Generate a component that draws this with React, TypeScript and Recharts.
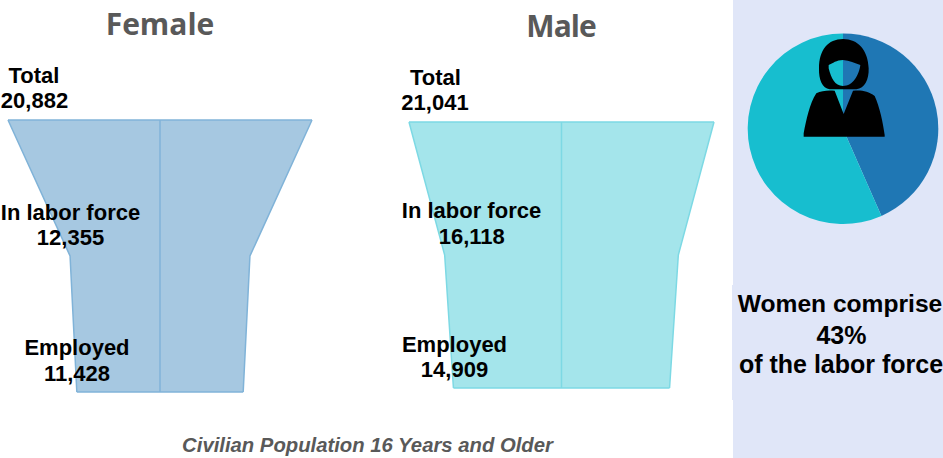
import { Area, AreaChart, Cell, Pie, PieChart, ReferenceLine, XAxis, YAxis } from "recharts";

const stages = ["Total", "In labor force", "Employed"];
const femaleValues = [20882, 12355, 11428];
const maleValues = [21041, 16118, 14909];
const femaleLabels = ["20,882", "12,355", "11,428"];
const maleLabels = ["21,041", "16,118", "14,909"];
const shareNames = ["Women", "Men"];
const shareValues = [12355, 16118];
const shareColors = ["#1F77B4", "#17BECF"];

const labelFont = "'Liberation Sans', Arial, sans-serif";
const titleFont = "'Open Sans', sans-serif";

function toRows(values: number[]) {
  return stages.map((stage, i) => ({ stage, value: values[i], range: [-values[i] / 2, values[i] / 2] }));
}

interface FunnelProps {
  values: number[];
  halfSpan: number;
  left: number;
  top: number;
  width: number;
  height: number;
  fill: string;
  stroke: string;
}

function Funnel({ values, halfSpan, left, top, width, height, fill, stroke }: FunnelProps) {
  const rows = toRows(values);
  const first = rows[0];
  const last = rows[rows.length - 1];
  return (
    <div style={{ position: "absolute", left, top }}>
      <AreaChart
        width={width}
        height={height}
        data={rows}
        layout="vertical"
        margin={{ top: 4, right: 4, bottom: 4, left: 4 }}
      >
        <XAxis type="number" hide domain={[-halfSpan, halfSpan]} />
        <YAxis type="category" dataKey="stage" hide scale="point" />
        <Area
          type="linear"
          dataKey="range"
          fill={fill}
          fillOpacity={1}
          stroke={stroke}
          strokeWidth={1.5}
          dot={false}
          activeDot={false}
          isAnimationActive={false}
        />
        <ReferenceLine x={0} stroke={stroke} strokeWidth={1.5} />
        <ReferenceLine
          stroke={stroke}
          strokeWidth={1.5}
          segment={[{ x: -first.value / 2, y: first.stage }, { x: first.value / 2, y: first.stage }]}
        />
        <ReferenceLine
          stroke={stroke}
          strokeWidth={1.5}
          segment={[{ x: -last.value / 2, y: last.stage }, { x: last.value / 2, y: last.stage }]}
        />
      </AreaChart>
    </div>
  );
}

function Lbl({ x, y, children }: { x: number; y: number; children: string }) {
  return (
    <text x={x} y={y} textAnchor="middle" fontFamily={labelFont} fontWeight="bold" fontSize={22} fill="#000">
      {children}
    </text>
  );
}

export default function App() {
  const shareData = shareNames.map((name, i) => ({ name, value: shareValues[i] }));
  return (
    <div style={{ position: "fixed", left: 0, top: 0, width: 943, height: 458, overflow: "hidden", background: "#fff" }}>
      <div style={{ position: "absolute", left: 733, top: 0, width: 210, height: 458, background: "#E0E6F8" }} />
      <div style={{ position: "absolute", left: 732, top: 285, width: 211, height: 115, background: "#E0E6F8" }} />

      <Funnel values={femaleValues} halfSpan={10441} left={4} top={116} width={312} height={280} fill="#A6C8E1" stroke="#80B3D8" />
      <Funnel values={maleValues} halfSpan={10520} left={405} top={118} width={313} height={274} fill="#A4E5EB" stroke="#7DD9E4" />

      <div style={{ position: "absolute", left: 743, top: 24 }}>
        <PieChart width={200} height={210} margin={{ top: 0, right: 0, bottom: 0, left: 0 }}>
          <Pie
            data={shareData}
            dataKey="value"
            cx={100}
            cy={104.7}
            outerRadius={95.3}
            startAngle={90}
            endAngle={-270}
            stroke="none"
            isAnimationActive={false}
          >
            {shareData.map((d, i) => (
              <Cell key={d.name} fill={shareColors[i]} />
            ))}
          </Pie>
        </PieChart>
      </div>

      <svg width={210} height={240} viewBox="0 0 630 720" style={{ position: "absolute", left: 733, top: 0 }}>
        <path
          fill="#000"
          fillRule="evenodd"
          d="M330 117 C375 117 405 150 407 205 C408 240 395 265 370 268 L290 268 C268 265 257 240 258 205 C258 150 285 117 330 117 Z M287 195 C300 190 310 180 330 180 C350 182 365 190 382 195 C378 225 360 258 330 258 C305 258 295 235 287 205 Z"
        />
        <path
          fill="#000"
          d="M250 280 C265 272 285 270 305 272 L332 342 L360 272 C385 270 405 272 425 288 C440 320 450 370 455 405 L455 410 L212 410 L212 400 C220 360 230 310 250 280 Z"
        />
      </svg>

      <svg width={943} height={458} style={{ position: "absolute", left: 0, top: 0 }}>
        <text x={160} y={35} textAnchor="middle" fontFamily={titleFont} fontWeight="bold" fontSize={30} fill="#595959">Female</text>
        <text x={561} y={37} textAnchor="middle" fontFamily={titleFont} fontWeight="bold" fontSize={30} letterSpacing={-1} fill="#595959">Male</text>

        <Lbl x={34} y={83}>{stages[0]}</Lbl>
        <Lbl x={34.5} y={108}>{femaleLabels[0]}</Lbl>
        <Lbl x={70.5} y={220}>{stages[1]}</Lbl>
        <Lbl x={70.5} y={245}>{femaleLabels[1]}</Lbl>
        <Lbl x={77} y={355}>{stages[2]}</Lbl>
        <Lbl x={77} y={381}>{femaleLabels[2]}</Lbl>

        <Lbl x={435.5} y={85}>{stages[0]}</Lbl>
        <Lbl x={435} y={110}>{maleLabels[0]}</Lbl>
        <Lbl x={471.5} y={218}>{stages[1]}</Lbl>
        <Lbl x={471.7} y={244}>{maleLabels[1]}</Lbl>
        <Lbl x={454.5} y={352}>{stages[2]}</Lbl>
        <Lbl x={454.5} y={377}>{maleLabels[2]}</Lbl>

        <text x={367.5} y={452} textAnchor="middle" fontFamily={labelFont} fontWeight="bold" fontStyle="italic" fontSize={20.3} fill="#595959">
          Civilian Population 16 Years and Older
        </text>

        <g fontFamily={labelFont} fontWeight="bold" fill="#000" textAnchor="middle">
          <text x={840} y={312} fontSize={24.6}>Women comprise</text>
          <text x={841.5} y={344} fontSize={25}>43%</text>
          <text x={841} y={373} fontSize={25}>of the labor force</text>
        </g>
      </svg>
    </div>
  );
}
